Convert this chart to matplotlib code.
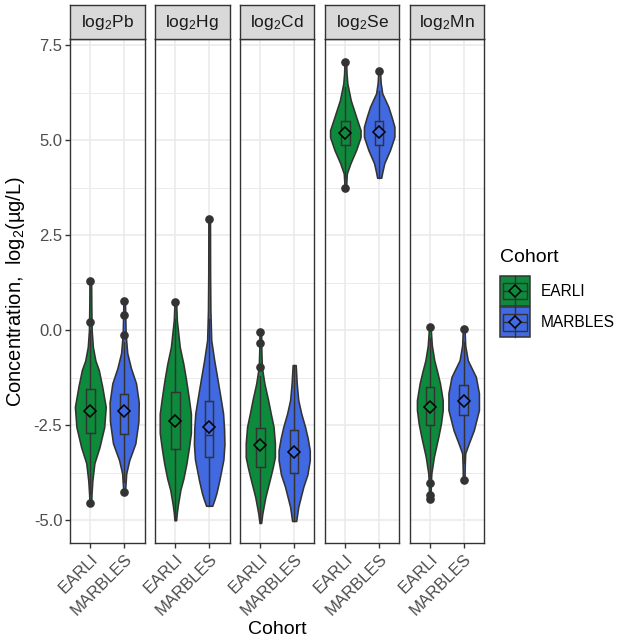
import matplotlib
matplotlib.use("Agg")
import matplotlib.pyplot as plt
from matplotlib.patches import Rectangle, Patch
from matplotlib.lines import Line2D
from matplotlib.legend_handler import HandlerBase

plt.rcParams['font.family'] = ['Liberation Sans', 'DejaVu Sans']
plt.rcParams['mathtext.fontset'] = 'custom'
plt.rcParams['mathtext.rm'] = 'Liberation Sans'
plt.rcParams['mathtext.it'] = 'Liberation Sans:italic'
plt.rcParams['mathtext.bf'] = 'Liberation Sans:bold'

# ---------------- data ----------------
metals = ["Pb", "Hg", "Cd", "Se", "Mn"]
cohorts = ["EARLI", "MARBLES"]
y_ticks = [-5.0, -2.5, 0.0, 2.5, 5.0, 7.5]

# violin profiles: values (log2 ug/L) and half-widths (x units)
pb_earli_y = [1.30, 0.60, 0.00, -0.44, -0.80, -1.05, -1.48, -2.02, -2.55, -3.08, -3.50, -3.96, -4.30, -4.54]
pb_earli_w = [0.024, 0.03, 0.04, 0.075, 0.15, 0.25, 0.35, 0.455, 0.41, 0.27, 0.12, 0.06, 0.036, 0.024]
pb_marbles_y = [0.77, 0.41, -0.13, -0.60, -1.00, -1.40, -1.90, -2.40, -2.98, -3.42, -3.77, -4.25]
pb_marbles_w = [0.024, 0.03, 0.045, 0.09, 0.20, 0.35, 0.43, 0.42, 0.33, 0.15, 0.06, 0.024]

hg_earli_y = [0.73, 0.26, -0.44, -0.90, -1.32, -1.80, -2.20, -2.70, -3.10, -3.50, -3.90, -4.20, -4.60, -4.80, -5.00]
hg_earli_w = [0.024, 0.045, 0.13, 0.24, 0.32, 0.40, 0.46, 0.46, 0.40, 0.33, 0.24, 0.15, 0.075, 0.045, 0.024]
hg_marbles_y = [2.92, 1.50, 0.50, -0.26, -0.80, -1.32, -1.80, -2.19, -2.60, -3.00, -3.40, -3.95, -4.30, -4.47, -4.62]
hg_marbles_w = [0.024, 0.027, 0.036, 0.06, 0.15, 0.25, 0.34, 0.41, 0.44, 0.45, 0.42, 0.30, 0.21, 0.15, 0.09]

cd_earli_y = [-0.06, -0.50, -0.97, -1.40, -1.84, -2.20, -2.54, -2.97, -3.34, -3.60, -3.86, -4.39, -4.82, -5.07]
cd_earli_w = [0.024, 0.03, 0.045, 0.12, 0.23, 0.31, 0.39, 0.43, 0.43, 0.37, 0.30, 0.15, 0.06, 0.024]
cd_marbles_y = [-0.92, -1.40, -1.84, -2.20, -2.54, -2.85, -3.16, -3.42, -3.80, -4.12, -4.65, -5.02]
cd_marbles_w = [0.045, 0.075, 0.12, 0.21, 0.32, 0.40, 0.46, 0.46, 0.39, 0.27, 0.12, 0.06]

se_earli_y = [7.06, 6.75, 6.49, 6.05, 5.61, 5.26, 5.08, 4.74, 4.39, 4.12, 3.90, 3.73]
se_earli_w = [0.024, 0.036, 0.06, 0.16, 0.32, 0.45, 0.45, 0.32, 0.15, 0.045, 0.03, 0.024]
se_marbles_y = [6.82, 6.50, 6.23, 5.88, 5.60, 5.35, 5.09, 4.74, 4.39, 4.15, 4.01]
se_marbles_w = [0.024, 0.045, 0.09, 0.27, 0.37, 0.45, 0.45, 0.32, 0.15, 0.09, 0.06]

mn_earli_y = [0.07, -0.40, -0.79, -1.10, -1.40, -1.84, -2.10, -2.45, -2.81, -3.33, -3.77, -4.03, -4.43]
mn_earli_w = [0.024, 0.06, 0.13, 0.22, 0.30, 0.38, 0.38, 0.33, 0.25, 0.12, 0.045, 0.03, 0.024]
mn_marbles_y = [0.04, -0.40, -0.79, -1.23, -1.66, -2.10, -2.63, -2.98, -3.24, -3.60, -3.93]
mn_marbles_w = [0.024, 0.045, 0.12, 0.36, 0.45, 0.45, 0.30, 0.15, 0.045, 0.03, 0.024]

# boxplot summaries: q1, median, q3, lower whisker, upper whisker
pb_box = {"EARLI": [-2.70, -2.10, -1.55, -4.30, 0.00], "MARBLES": [-2.72, -2.15, -1.69, -4.00, -0.30]}
hg_box = {"EARLI": [-3.14, -2.40, -1.62, -5.00, 0.30], "MARBLES": [-3.35, -2.76, -1.87, -4.62, 0.30]}
cd_box = {"EARLI": [-3.60, -3.05, -2.57, -5.07, -1.20], "MARBLES": [-3.77, -3.25, -2.63, -5.02, -0.92]}
se_box = {"EARLI": [4.87, 5.20, 5.51, 4.00, 6.40], "MARBLES": [4.87, 5.20, 5.51, 4.01, 6.30]}
mn_box = {"EARLI": [-2.50, -2.00, -1.49, -3.90, -0.20], "MARBLES": [-2.24, -1.85, -1.45, -3.50, -0.30]}

# means (diamonds)
pb_mean = {"EARLI": -2.12, "MARBLES": -2.13}
hg_mean = {"EARLI": -2.39, "MARBLES": -2.54}
cd_mean = {"EARLI": -3.02, "MARBLES": -3.20}
se_mean = {"EARLI": 5.19, "MARBLES": 5.22}
mn_mean = {"EARLI": -2.02, "MARBLES": -1.86}

# outliers
pb_out = {"EARLI": [1.30, 0.22, -4.54], "MARBLES": [0.77, 0.41, -0.13, -4.25]}
hg_out = {"EARLI": [0.73], "MARBLES": [2.92]}
cd_out = {"EARLI": [-0.06, -0.33, -0.97], "MARBLES": []}
se_out = {"EARLI": [7.06, 3.73], "MARBLES": [6.82]}
mn_out = {"EARLI": [0.07, -4.03, -4.34, -4.43], "MARBLES": [0.04, -3.93]}

violins = {
    "Pb": {"EARLI": (pb_earli_y, pb_earli_w), "MARBLES": (pb_marbles_y, pb_marbles_w)},
    "Hg": {"EARLI": (hg_earli_y, hg_earli_w), "MARBLES": (hg_marbles_y, hg_marbles_w)},
    "Cd": {"EARLI": (cd_earli_y, cd_earli_w), "MARBLES": (cd_marbles_y, cd_marbles_w)},
    "Se": {"EARLI": (se_earli_y, se_earli_w), "MARBLES": (se_marbles_y, se_marbles_w)},
    "Mn": {"EARLI": (mn_earli_y, mn_earli_w), "MARBLES": (mn_marbles_y, mn_marbles_w)},
}
boxes = {"Pb": pb_box, "Hg": hg_box, "Cd": cd_box, "Se": se_box, "Mn": mn_box}
means = {"Pb": pb_mean, "Hg": hg_mean, "Cd": cd_mean, "Se": se_mean, "Mn": mn_mean}
outs = {"Pb": pb_out, "Hg": hg_out, "Cd": cd_out, "Se": se_out, "Mn": mn_out}

# ---------------- style ----------------
colors = {"EARLI": "#0E8A3C", "MARBLES": "#4169E1"}
DARK = "#333333"
GRID = "#EBEBEB"
W, H = 620, 643

fig = plt.figure(figsize=(W / 100, H / 100), dpi=100)

panel_left = [70, 155, 240, 325, 409.5]
panel_w = 74.5
panel_top, panel_bot = 39, 543
strip_top = 5

def fx(px):
    return px / W

def fy(py):
    return 1 - py / H

for i, metal in enumerate(metals):
    l = panel_left[i]
    ax = fig.add_axes([fx(l), fy(panel_bot), panel_w / W, (panel_bot - panel_top) / H])
    ax.set_xlim(0.4, 2.6)
    ax.set_ylim(-5.6, 7.66)
    # grid
    for v in y_ticks:
        ax.axhline(v, color=GRID, lw=1.2, zorder=0)
    for k in range(len(y_ticks) - 1):
        ax.axhline((y_ticks[k] + y_ticks[k + 1]) / 2, color=GRID, lw=0.7, zorder=0)
    for xpos in (1, 2):
        ax.axvline(xpos, color=GRID, lw=1.2, zorder=0)

    for j, c in enumerate(cohorts):
        xpos = j + 1
        vy, vw = violins[metal][c]
        ax.fill_betweenx(vy, [xpos - w for w in vw], [xpos + w for w in vw],
                         facecolor=colors[c], edgecolor=DARK, lw=1.15, zorder=2)
        q1, med, q3, wlo, whi = boxes[metal][c]
        st = [{"q1": q1, "med": med, "q3": q3, "whislo": wlo, "whishi": whi,
               "mean": means[metal][c], "fliers": outs[metal][c]}]
        ax.bxp(st, positions=[xpos], widths=0.25, showcaps=False, showmeans=True,
               patch_artist=True, manage_ticks=False,
               boxprops=dict(facecolor="none", edgecolor=DARK, lw=1.05),
               whiskerprops=dict(color=DARK, lw=1.05),
               medianprops=dict(color=DARK, lw=1.05),
               flierprops=dict(marker="o", markerfacecolor=DARK, markeredgecolor=DARK, markersize=5.2),
               meanprops=dict(marker="D", markerfacecolor=colors[c], markeredgecolor="black",
                              markersize=6.5, markeredgewidth=1.1),
               zorder=3)

    ax.set_xticks([1, 2])
    ax.set_xticklabels(cohorts, rotation=45, ha="right", va="top",
                       rotation_mode="anchor", fontsize=12, color="#4D4D4D")
    ax.tick_params(axis="x", length=3.5, width=1.0, color=DARK, pad=2.5)
    if i == 0:
        ax.set_yticks(y_ticks)
        ax.set_yticklabels(["%.1f" % v for v in y_ticks], fontsize=12, color="#4D4D4D")
        ax.tick_params(axis="y", length=3.5, width=1.0, color=DARK, pad=2)
    else:
        ax.set_yticks([])
    for s in ax.spines.values():
        s.set_color(DARK)
        s.set_linewidth(1.0)

    # strip
    sax = fig.add_axes([fx(l), fy(panel_top), panel_w / W, (panel_top - strip_top) / H])
    sax.set_facecolor("#D9D9D9")
    sax.set_xticks([])
    sax.set_yticks([])
    for s in sax.spines.values():
        s.set_color(DARK)
        s.set_linewidth(1.0)
    sax.text(0.5, 0.5, "log$_2$" + metal, ha="center", va="center",
             fontsize=12.5, color="#1A1A1A", transform=sax.transAxes)

# axis titles
fig.text(fx(16), fy(291), "Concentration,  log$_2$(µg/L)", rotation=90,
         ha="center", va="center", fontsize=14.5, color="black")
fig.text(fx(277), fy(630), "Cohort", ha="center", va="center", fontsize=14, color="black")

# legend title
fig.text(fx(500), fy(257), "Cohort", ha="left", va="center", fontsize=14, color="black")


class KeyHandler(HandlerBase):
    def create_artists(self, legend, orig_handle, xdescent, ydescent, width, height, fontsize, trans):
        col = orig_handle.get_facecolor()
        x0, y0 = -xdescent, -ydescent
        cx, cy = x0 + width / 2, y0 + height / 2
        rect = Rectangle((x0, y0), width, height, facecolor=col, edgecolor=DARK, lw=1.1, transform=trans)
        vline = Line2D([cx, cx], [y0, y0 + height], color=DARK, lw=1.0, transform=trans)
        box = Rectangle((x0 + 0.1 * width, y0 + 0.22 * height), 0.8 * width, 0.56 * height,
                        facecolor="none", edgecolor=DARK, lw=1.0, transform=trans)
        medl = Line2D([x0 + 0.1 * width, x0 + 0.9 * width], [cy, cy], color=DARK, lw=1.0, transform=trans)
        dia = Line2D([cx], [cy], marker="D", markersize=6.5, markerfacecolor=col,
                     markeredgecolor="black", markeredgewidth=1.1, transform=trans)
        return [rect, vline, box, medl, dia]


handles = [Patch(facecolor=colors[c]) for c in cohorts]
leg = fig.legend(handles, cohorts, loc="upper left", bbox_to_anchor=(fx(500), fy(276)),
                 frameon=False, borderpad=0, borderaxespad=0,
                 fontsize=11.2, handlelength=1.93, handleheight=2.59,
                 labelspacing=0.08, handletextpad=0.7,
                 handler_map={Patch: KeyHandler()})

fig.savefig("out.png", dpi=100)
